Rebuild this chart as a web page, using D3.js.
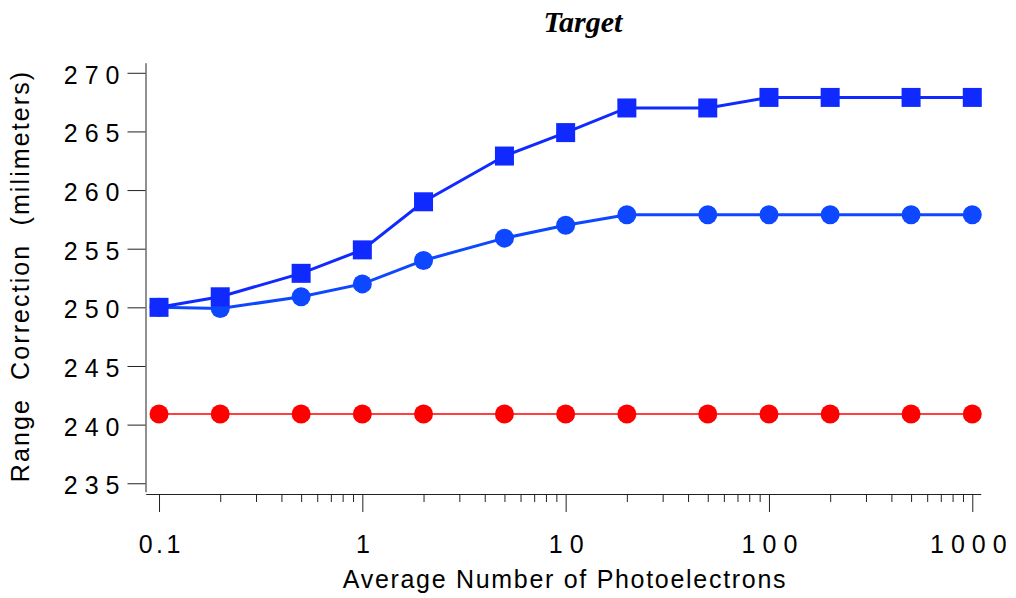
<!DOCTYPE html>
<html>
<head>
<meta charset="utf-8">
<script src="https://cdn.jsdelivr.net/npm/d3@7"></script>
<style>
  html, body { margin: 0; padding: 0; background: #fff; }
  svg { display: block; }
  .tick-label { font-family: "Liberation Sans", Arial, sans-serif; font-size: 25px; letter-spacing: 7px; fill: #000; }
  .axis-title { font-family: "Liberation Sans", Arial, sans-serif; font-size: 25px; letter-spacing: 1.7px; fill: #000; white-space: pre; }
  .chart-title { font-family: "Liberation Serif", "Times New Roman", serif; font-size: 30px; font-weight: bold; font-style: italic; fill: #000; }
</style>
</head>
<body>
<svg id="chart" width="1016" height="598"></svg>
<script>
// Average number of photoelectrons (log axis)
const photoelectrons = [0.1, 0.2, 0.5, 1, 2, 5, 10, 20, 50, 100, 200, 500, 1000];
// Range correction in millimetres for each series
const squareSeries = [250, 250.9, 252.9, 254.9, 259, 262.9, 264.9, 267, 267, 267.9, 267.9, 267.9, 267.9];
const circleSeries = [250, 249.9, 250.9, 252, 254, 255.9, 257, 257.9, 257.9, 257.9, 257.9, 257.9, 257.9];
const redSeries    = [240.9, 240.9, 240.9, 240.9, 240.9, 240.9, 240.9, 240.9, 240.9, 240.9, 240.9, 240.9, 240.9];

const xMajorTicks = [0.1, 1, 10, 100, 1000];
const xTickLabels = ["0.1", "1", "10", "100", "1000"];
const xMinorTicks = [0.2,0.3,0.4,0.5,0.6,0.7,0.8,0.9, 2,3,4,5,6,7,8,9, 20,30,40,50,60,70,80,90, 200,300,400,500,600,700,800,900];
const yTicks = [235, 240, 245, 250, 255, 260, 265, 270];
const xDomain = [0.086, 1100];
const yDomain = [234.28, 270.86];

const svg = d3.select("#chart");

const x = d3.scaleLog().domain(xDomain).range([145.7, 980.7]);
const y = d3.scaleLinear().domain(yDomain).range([491.7, 62.7]);

const ls = 7; // tick label letter spacing

// Y axis
const yAxis = svg.append("g")
  .attr("transform", "translate(145.5,0)")
  .call(d3.axisLeft(y).tickValues(yTicks).tickSize(18).tickSizeOuter(0).tickPadding(1).tickFormat(d3.format("d")));
yAxis.selectAll("text").attr("class", "tick-label").attr("dy", "0.42em").attr("font-size", null).attr("font-family", null);

// X axis: major ticks
const xAxis = svg.append("g")
  .attr("transform", "translate(0,494)")
  .call(d3.axisBottom(x).tickValues(xMajorTicks).tickSize(18).tickSizeOuter(0).tickPadding(23)
    .tickFormat((d, i) => xTickLabels[i]));
xAxis.selectAll("text")
  .attr("class", "tick-label")
  .attr("font-size", null).attr("font-family", null)
  .style("letter-spacing", d => (d < 1 ? "3.5px" : null))
  .attr("dx", (d, i) => (i === xMajorTicks.length - 1 ? -1 : (d < 1 ? 1.75 : ls / 2)));

// X axis: minor ticks
const xMinor = svg.append("g")
  .attr("transform", "translate(0,494)")
  .call(d3.axisBottom(x).tickValues(xMinorTicks).tickSize(8).tickSizeOuter(0).tickFormat(""));
xMinor.select(".domain").remove();

svg.selectAll(".domain, .tick line").attr("stroke", "#222").attr("stroke-width", 1);

// Series lines and markers
const line = d3.line().x((d, i) => x(photoelectrons[i])).y(d => y(d));

function drawSeries(values, color, lineWidth, marker, size) {
  svg.append("path")
    .datum(values)
    .attr("fill", "none")
    .attr("stroke", color)
    .attr("stroke-width", lineWidth)
    .attr("d", line);
  const g = svg.append("g").attr("fill", color);
  if (marker === "circle") {
    g.selectAll("circle").data(values).join("circle")
      .attr("cx", (d, i) => x(photoelectrons[i]))
      .attr("cy", d => y(d))
      .attr("r", size / 2);
  } else {
    g.selectAll("rect").data(values).join("rect")
      .attr("x", (d, i) => x(photoelectrons[i]) - size / 2)
      .attr("y", d => y(d) - size / 2)
      .attr("width", size)
      .attr("height", size);
  }
}

drawSeries(redSeries, "#ff0000", 1.5, "circle", 19);
drawSeries(circleSeries, "#0d47ff", 3, "circle", 19);
drawSeries(squareSeries, "#1029ff", 3, "square", 19);

// Titles
svg.append("text")
  .attr("class", "chart-title")
  .attr("x", 583).attr("y", 32)
  .attr("text-anchor", "middle")
  .text("Target");

svg.append("text")
  .attr("class", "axis-title")
  .attr("x", 565).attr("y", 588)
  .attr("text-anchor", "middle")
  .text("Average Number of Photoelectrons");

svg.append("text")
  .attr("class", "axis-title")
  .style("letter-spacing", "2.1px")
  .attr("transform", "translate(29,276) rotate(-90)")
  .attr("text-anchor", "middle")
  .text("Range  Correction  (milimeters)");
</script>
</body>
</html>
